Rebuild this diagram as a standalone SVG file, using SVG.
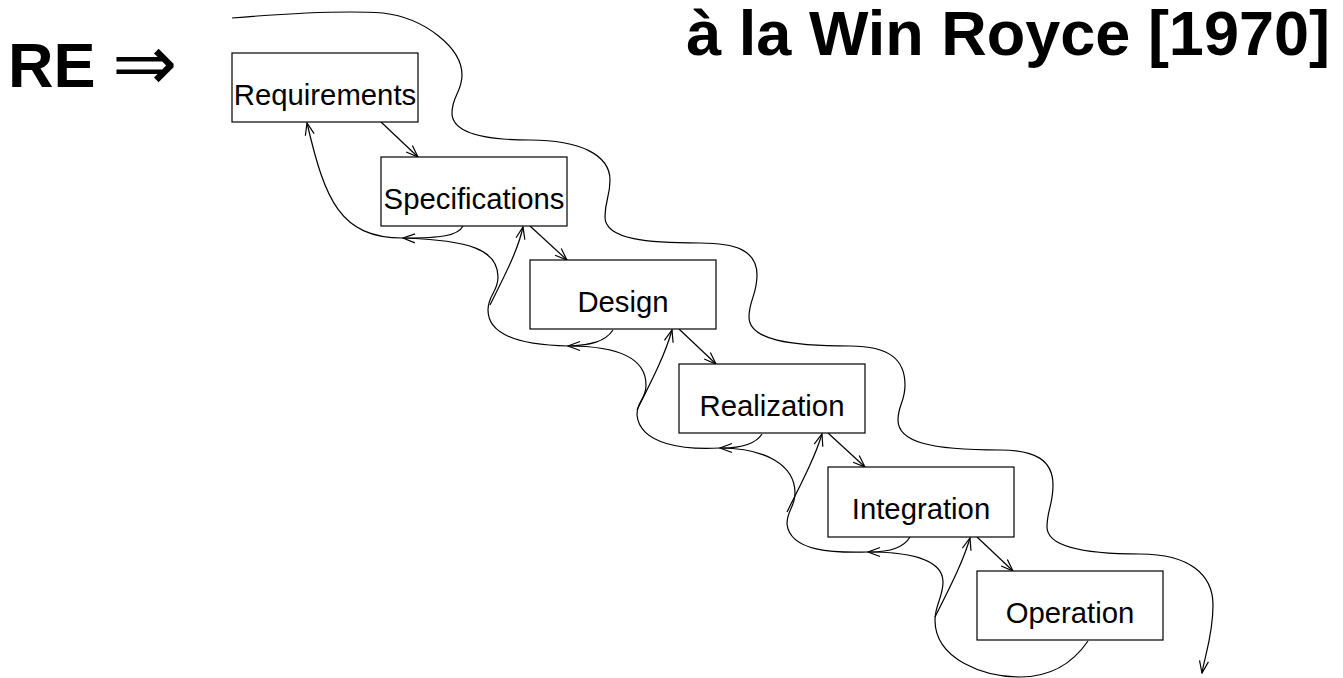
<svg xmlns="http://www.w3.org/2000/svg" width="1343" height="678" viewBox="0 0 1343 678">
  <style>
    .box { fill: #fff; stroke: #000; stroke-width: 1.2; }
    .lbl { font-family: "Liberation Sans", Arial, sans-serif; font-size: 29.3px; text-anchor: middle; fill: #000; }
    .ttl { font-family: "Liberation Sans", Arial, sans-serif; font-size: 63px; font-weight: bold; fill: #000; }
    .ln { fill: none; stroke: #000; stroke-width: 1.2; }
    .arr { marker-end: url(#ah); }
  </style>
  <defs>
    <marker id="ah" viewBox="-13 -6 14 12" refX="0" refY="0" markerWidth="14" markerHeight="12" markerUnits="userSpaceOnUse" orient="auto">
      <path d="M-12,-4.5 L0,0 L-12,4.5" fill="none" stroke="#000" stroke-width="1.2"/>
    </marker>
  </defs>

  <rect width="1343" height="678" fill="#fff"/>

  <!-- headings -->
  <text class="ttl" x="8" y="87">RE <tspan font-family="DejaVu Sans, sans-serif" font-weight="normal" font-size="78" x="112" y="90">⇒</tspan></text>
  <text class="ttl" x="1330" y="55" text-anchor="end">à la Win Royce [1970]</text>

  <!-- connectors -->
  <g id="connectors">
    <!-- forward arrows -->
    <path class="ln arr" d="M381,122 L418,157"/>
    <path class="ln arr" d="M530,226 L567,260"/>
    <path class="ln arr" d="M679,329 L716,364"/>
    <path class="ln arr" d="M828,433 L865,467"/>
    <path class="ln arr" d="M977,537 L1013,571"/>

    <!-- feedback arrows up to the previous phase -->
    <path class="ln arr" d="M490,305 C505,275 518,250 523,227"/>
    <path class="ln arr" d="M637,410 C652,380 665,355 672,330"/>
    <path class="ln arr" d="M787,512 C802,482 815,457 822,434"/>
    <path class="ln arr" d="M935,617 C950,587 963,562 970,538"/>

    <!-- lower wavy return line, in pieces ending at each trough -->
    <path class="ln arr" d="M1088,641 C1075,660 1055,677 1020,677 C985,677 935,660 935,620 C935,605 943,597 943,582 C943,558 905,552 868,552"/>
    <path class="ln arr" d="M868,552 C835,553 790,552 787,524 C787,510 795,507 795,493 C795,465 765,448 720,448"/>
    <path class="ln arr" d="M720,448 C685,450 640,445 637,415 C637,400 646,400 646,385 C646,355 610,346 568,346"/>
    <path class="ln arr" d="M568,346 C520,345 488,335 488,310 C488,295 498,292 498,277 C498,250 470,240 403,238"/>
    <path class="ln arr" d="M403,238 C340,238 325,200 307,123"/>

    <!-- short curves from each box bottom into the trough -->
    <path class="ln" d="M463,226 C458,236 440,238 405,238"/>
    <path class="ln" d="M613,330 C605,342 590,345 570,346"/>
    <path class="ln" d="M762,434 C755,445 740,448 722,448"/>
    <path class="ln" d="M910,537 C903,549 888,552 870,552"/>

    <!-- upper wavy line down the right side -->
    <path class="ln arr" d="M232,18 C280,14 340,10 383,13 C425,18 462,48 462,75 C462,92 452,96 452,113 C452,135 490,140 530,140 C580,140 610,155 610,180 C610,197 605,200 605,217 C605,240 650,243 700,243 C735,243 757,250 757,275 C757,295 749,300 749,317 C749,340 790,346 850,346 C890,346 905,360 905,385 C905,402 898,405 898,420 C898,442 930,450 1000,450 C1035,450 1053,460 1053,485 C1053,505 1047,510 1047,527 C1047,550 1100,554 1140,554 C1190,554 1213,575 1213,605 C1213,635 1205,655 1202,673"/>
  </g>

  <!-- phases -->
  <g id="requirements">
    <rect class="box" x="232" y="53" width="186" height="69"/>
    <text class="lbl" x="325" y="104.5">Requirements</text>
  </g>
  <g id="specifications">
    <rect class="box" x="381" y="157" width="186" height="69"/>
    <text class="lbl" x="474" y="208.5">Specifications</text>
  </g>
  <g id="design">
    <rect class="box" x="530" y="260" width="186" height="69"/>
    <text class="lbl" x="623" y="311.5">Design</text>
  </g>
  <g id="realization">
    <rect class="box" x="679" y="364" width="186" height="69"/>
    <text class="lbl" x="772" y="415.5">Realization</text>
  </g>
  <g id="integration">
    <rect class="box" x="828" y="467" width="186" height="70"/>
    <text class="lbl" x="921" y="519">Integration</text>
  </g>
  <g id="operation">
    <rect class="box" x="977" y="571" width="186" height="69"/>
    <text class="lbl" x="1070" y="622.5">Operation</text>
  </g>
</svg>
